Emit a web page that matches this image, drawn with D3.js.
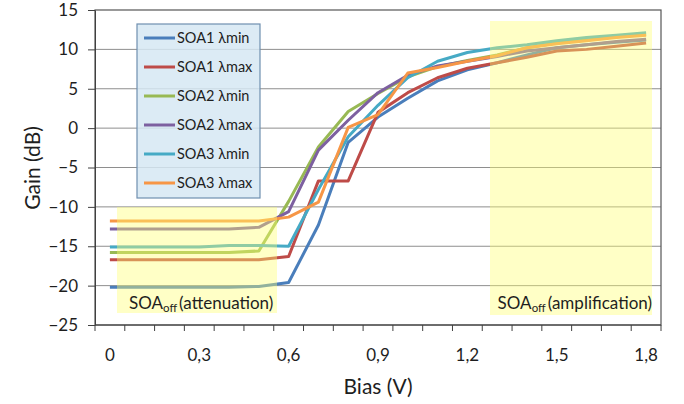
<!DOCTYPE html>
<html>
<head>
<meta charset="utf-8">
<script src="https://cdn.jsdelivr.net/npm/d3@7"></script>
<style>
  html, body { margin: 0; padding: 0; background: #fff; }
  svg { display: block; font-family: Lato, "Open Sans", sans-serif; }
</style>
</head>
<body>
<svg id="chart" width="684" height="404"></svg>
<script>
// Bias categories (V)
const biasV = ['0', '0.1', '0.2', '0.3', '0.4', '0.5', '0.6', '0.7', '0.8', '0.9',
               '1', '1.1', '1.2', '1.3', '1.4', '1.5', '1.6', '1.7', '1.8'];
const xLabels = ['0', '0.3', '0.6', '0.9', '1.2', '1.5', '1.8'];
const gainTicks = [-25, -20, -15, -10, -5, 0, 5, 10, 15];

// Gain (dB) per series
const soa1Min = [-20.2, -20.2, -20.2, -20.2, -20.2, -20.1, -19.6, -12.3, -1.8, 1.4, 3.8, 6.0, 7.4, 8.3, 9.3, 10.2, 10.6, 10.9, 11.2];
const soa1Max = [-16.7, -16.7, -16.7, -16.7, -16.7, -16.7, -16.3, -6.7, -6.7, 2.0, 4.5, 6.4, 7.6, 8.3, 9.0, 9.8, 10.0, 10.4, 10.8];
const soa2Min = [-15.8, -15.8, -15.8, -15.8, -15.8, -15.6, -9.3, -2.4, 2.1, 4.4, 6.5, 7.8, 8.6, 9.3, 10.2, 10.8, 11.2, 11.6, 11.9];
const soa2Max = [-12.8, -12.8, -12.8, -12.8, -12.8, -12.6, -10.6, -2.8, 1.0, 4.5, 6.7, 7.9, 8.5, 9.1, 9.8, 10.2, 10.6, 11.0, 11.3];
const soa3Min = [-15.1, -15.1, -15.1, -15.1, -14.9, -14.9, -15.0, -7.8, -1.1, 2.9, 6.4, 8.5, 9.6, 10.2, 10.6, 11.1, 11.5, 11.8, 12.1];
const soa3Max = [-11.8, -11.8, -11.8, -11.8, -11.8, -11.8, -11.3, -9.4, 0.1, 1.7, 7.0, 7.7, 8.5, 9.2, 10.2, 10.7, 11.1, 11.5, 11.8];

const seriesNames = ['SOA1 λmin', 'SOA1 λmax', 'SOA2 λmin', 'SOA2 λmax', 'SOA3 λmin', 'SOA3 λmax'];
const seriesValues = [soa1Min, soa1Max, soa2Min, soa2Max, soa3Min, soa3Max];
const seriesColors = ['#4A7EBB', '#BE4B48', '#98B954', '#7D60A0', '#46AAC5', '#F79646'];

const plot = { left: 95, right: 661, top: 10, bottom: 325 };
const textColor = '#1e1e1e';

const svg = d3.select('#chart');

const x = d3.scaleBand().domain(biasV).range([plot.left, plot.right]);
const y = d3.scaleLinear().domain([-25, 15]).range([plot.bottom, plot.top]);
const xc = d => x(d) + x.bandwidth() / 2;

// gridlines
svg.append('g')
  .selectAll('line')
  .data(gainTicks.filter(t => t > -25 && t < 15))
  .join('line')
  .attr('x1', plot.left).attr('x2', plot.right)
  .attr('y1', d => y(d)).attr('y2', d => y(d))
  .attr('stroke', '#8e8e8e').attr('stroke-width', 1);

// frame (top / right)
svg.append('rect')
  .attr('x', plot.left).attr('y', plot.top)
  .attr('width', plot.right - plot.left).attr('height', plot.bottom - plot.top)
  .attr('fill', 'none').attr('stroke', '#555').attr('stroke-width', 1.2);

// series lines
const line = d3.line()
  .x((d, i) => xc(biasV[i]))
  .y(d => y(d));

svg.append('g')
  .selectAll('path')
  .data(seriesValues)
  .join('path')
  .attr('d', d => line(d))
  .attr('fill', 'none')
  .attr('stroke', (d, i) => seriesColors[i])
  .attr('stroke-width', 3)
  .attr('stroke-linejoin', 'round');

// shaded regions (semi-transparent, over the lines)
const regions = [
  { x0: 117, x1: 277, y0: 207, y1: 313 },
  { x0: 490, x1: 652, y0: 21, y1: 315 }
];
svg.append('g')
  .selectAll('rect')
  .data(regions)
  .join('rect')
  .attr('x', d => d.x0).attr('y', d => d.y0)
  .attr('width', d => d.x1 - d.x0).attr('height', d => d.y1 - d.y0)
  .attr('fill', '#FFFF70').attr('opacity', 0.4);

// y axis
const yAxis = svg.append('g')
  .attr('transform', `translate(${plot.left},0)`)
  .call(d3.axisLeft(y).tickValues(gainTicks).tickSize(7).tickSizeOuter(0));
yAxis.select('.domain').attr('stroke', '#404040');
yAxis.selectAll('.tick line').attr('stroke', '#404040');
yAxis.selectAll('.tick text')
  .attr('x', -17)
  .attr('font-size', 17).attr('fill', textColor)
  .style('font-family', 'Lato, sans-serif');

// x axis: ticks between categories, labels every 0.3 V
const xAxisG = svg.append('g');
xAxisG.append('line')
  .attr('x1', plot.left).attr('x2', plot.right)
  .attr('y1', plot.bottom).attr('y2', plot.bottom)
  .attr('stroke', '#404040');
xAxisG.selectAll('line.tk')
  .data(biasV.map(c => x(c)).concat([plot.right]))
  .join('line')
  .attr('class', 'tk')
  .attr('x1', d => d).attr('x2', d => d)
  .attr('y1', plot.bottom).attr('y2', plot.bottom + 6)
  .attr('stroke', '#404040');
xAxisG.selectAll('text')
  .data(xLabels)
  .join('text')
  .attr('x', d => xc(d))
  .attr('y', 361)
  .attr('text-anchor', 'middle')
  .attr('font-size', 17).attr('fill', textColor)
  .text(d => d.replace('.', ','));

// axis titles
svg.append('text')
  .attr('transform', 'translate(40,168) rotate(-90)')
  .attr('text-anchor', 'middle')
  .attr('font-size', 21).attr('fill', textColor)
  .text('Gain (dB)');
svg.append('text')
  .attr('x', (plot.left + plot.right) / 2).attr('y', 394)
  .attr('text-anchor', 'middle')
  .attr('font-size', 21).attr('fill', textColor)
  .text('Bias (V)');

// region labels
function soaLabel(xPos, anchor, rest) {
  const t = svg.append('text')
    .attr('x', xPos).attr('y', 309)
    .attr('text-anchor', anchor)
    .attr('font-size', 17).attr('fill', textColor);
  t.append('tspan').text('SOA');
  t.append('tspan').attr('font-size', 11.5).attr('dy', 3).text('off');
  t.append('tspan').attr('dy', -3).attr('dx', 2).text('(' + rest + ')');
}
soaLabel(129, 'start', 'attenuation');
soaLabel(652, 'end', 'amplification');

// legend
const legend = svg.append('g');
legend.append('rect')
  .attr('x', 137).attr('y', 24).attr('width', 123).attr('height', 174)
  .attr('fill', '#D6E7F3').attr('fill-opacity', 0.85)
  .attr('stroke', '#6F8FB0').attr('stroke-width', 1.2);
const items = legend.selectAll('g.item')
  .data(seriesNames)
  .join('g')
  .attr('class', 'item')
  .attr('transform', (d, i) => `translate(0,${38 + i * 29})`);
items.append('line')
  .attr('x1', 144).attr('x2', 175)
  .attr('stroke', (d, i) => seriesColors[i]).attr('stroke-width', 3);
items.append('text')
  .attr('x', 177).attr('y', 5)
  .attr('font-size', 14.5).attr('fill', textColor)
  .text(d => d);
</script>
</body>
</html>
